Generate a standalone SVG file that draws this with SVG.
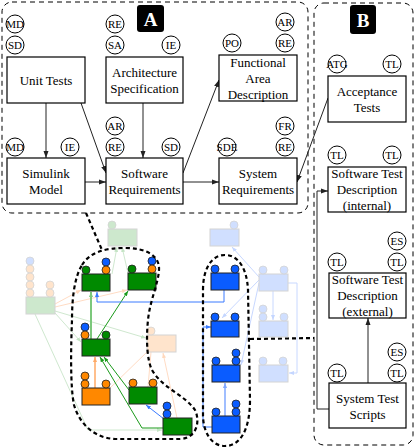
<svg xmlns="http://www.w3.org/2000/svg" width="415" height="448" viewBox="0 0 415 448">
<style>
.panel{fill:none;stroke:#000;stroke-width:1;stroke-dasharray:5,4}
.b{fill:#fff;stroke:#000;stroke-width:1.2}
.c{fill:#fff;stroke:#000;stroke-width:1}
.t{font-family:"Liberation Serif",serif;font-size:13px;text-anchor:middle;fill:#000}
.ct{font-family:"Liberation Serif",serif;font-size:11px;text-anchor:middle;fill:#000}
.lbl{font-family:"Liberation Serif",serif;font-size:19px;font-weight:bold;text-anchor:middle;fill:#fff}
.con{fill:none;stroke:#222;stroke-width:1;marker-end:url(#ah)}
.hd{fill:none;stroke:#000;stroke-width:2.2;stroke-dasharray:4,3}
.tb{stroke:#222;stroke-width:1}
.fb{stroke:#d4d4d4;stroke-width:1}
.g{fill:#008a00}.bl{fill:#0a5cff}.o{fill:#ff8800}
.fg{fill:#cde8cd}.fbl{fill:#d0dfff}.fo{fill:#ffe4cc}
.tc{stroke:#222;stroke-width:0.8}
.fc{stroke:#d4d4d4;stroke-width:0.8}
.l{fill:none}
</style>
<defs>
<marker id="ah" markerWidth="7" markerHeight="6" refX="7" refY="3" orient="auto" markerUnits="userSpaceOnUse"><path d="M0,0.5 L7,3 L0,5.5z" fill="#222"/></marker>
<marker id="mg" markerWidth="5" markerHeight="4" refX="5" refY="2" orient="auto" markerUnits="userSpaceOnUse"><path d="M0,0 L5,2 L0,4z" fill="#1a9a1a"/></marker>
<marker id="mlg" markerWidth="5" markerHeight="4" refX="5" refY="2" orient="auto" markerUnits="userSpaceOnUse"><path d="M0,0 L5,2 L0,4z" fill="#7cc87c"/></marker>
<marker id="mfg" markerWidth="5" markerHeight="4" refX="5" refY="2" orient="auto" markerUnits="userSpaceOnUse"><path d="M0,0 L5,2 L0,4z" fill="#c4e4c4"/></marker>
<marker id="mb" markerWidth="5" markerHeight="4" refX="5" refY="2" orient="auto" markerUnits="userSpaceOnUse"><path d="M0,0 L5,2 L0,4z" fill="#3a7aff"/></marker>
<marker id="mlb" markerWidth="5" markerHeight="4" refX="5" refY="2" orient="auto" markerUnits="userSpaceOnUse"><path d="M0,0 L5,2 L0,4z" fill="#80a8ff"/></marker>
<marker id="mfb" markerWidth="5" markerHeight="4" refX="5" refY="2" orient="auto" markerUnits="userSpaceOnUse"><path d="M0,0 L5,2 L0,4z" fill="#c4d6ff"/></marker>
<marker id="mo" markerWidth="5" markerHeight="4" refX="5" refY="2" orient="auto" markerUnits="userSpaceOnUse"><path d="M0,0 L5,2 L0,4z" fill="#ffaa66"/></marker>
<marker id="mp" markerWidth="5" markerHeight="4" refX="5" refY="2" orient="auto" markerUnits="userSpaceOnUse"><path d="M0,0 L5,2 L0,4z" fill="#ffd8bc"/></marker>
</defs>

<g id="panelA">
<rect class="panel" x="2" y="2" width="306" height="211" rx="10"/>
<rect x="137" y="5" width="27" height="27" rx="3" fill="#000"/>
<text class="lbl" x="150.5" y="25.5">A</text>
</g>
<g id="panelB">
<rect class="panel" x="314" y="3" width="99" height="442" rx="10"/>
<rect x="350" y="5" width="26" height="29" rx="3" fill="#000"/>
<text class="lbl" x="363" y="26.5">B</text>
</g>

<g id="connectors">
<line class="con" x1="46" y1="103" x2="46" y2="158"/>
<line class="con" x1="81" y1="103" x2="106" y2="173"/>
<line class="con" x1="143" y1="103" x2="143" y2="158"/>
<line class="con" x1="85" y1="182" x2="106" y2="182"/>
<line class="con" x1="183" y1="173" x2="219" y2="80"/>
<line class="con" x1="183" y1="182" x2="219" y2="182"/>
<line class="con" x1="328" y1="98" x2="297" y2="182"/>
<polyline class="con" points="329,409 317,409 317,191 328,191"/>
<line class="con" x1="368" y1="383" x2="368" y2="318"/>
<line class="hd" x1="86" y1="213" x2="102" y2="250"/>
<line class="hd" x1="250" y1="339" x2="314" y2="338"/>
</g>

<g id="unit-tests">
<rect class="b" x="7" y="57" width="78" height="46"/>
<text class="t" x="46" y="84.5">Unit Tests</text>
<circle class="c" cx="15" cy="24" r="9"/><text class="ct" x="15" y="27.8">MD</text>
<circle class="c" cx="15" cy="45" r="9"/><text class="ct" x="15" y="48.8">SD</text>
</g>
<g id="architecture-specification">
<rect class="b" x="106" y="57" width="77" height="46"/>
<text class="t" x="144.5" y="76.5">Architecture</text>
<text class="t" x="144.5" y="92.5">Specification</text>
<circle class="c" cx="115" cy="24" r="9"/><text class="ct" x="115" y="27.8">RE</text>
<circle class="c" cx="115" cy="45" r="9"/><text class="ct" x="115" y="48.8">SA</text>
<circle class="c" cx="171" cy="45" r="9"/><text class="ct" x="171" y="48.8">IE</text>
</g>
<g id="simulink-model">
<rect class="b" x="7" y="158" width="78" height="46"/>
<text class="t" x="46" y="177.5">Simulink</text>
<text class="t" x="46" y="194">Model</text>
<circle class="c" cx="15" cy="147" r="9"/><text class="ct" x="15" y="150.8">MD</text>
<circle class="c" cx="70" cy="147" r="9"/><text class="ct" x="70" y="150.8">IE</text>
</g>
<g id="software-requirements">
<rect class="b" x="106" y="158" width="77" height="46"/>
<text class="t" x="144.5" y="177.5">Software</text>
<text class="t" x="144.5" y="194">Requirements</text>
<circle class="c" cx="115" cy="126" r="9"/><text class="ct" x="115" y="129.8">AR</text>
<circle class="c" cx="115" cy="147" r="9"/><text class="ct" x="115" y="150.8">RE</text>
<circle class="c" cx="171" cy="147" r="9"/><text class="ct" x="171" y="150.8">SD</text>
</g>
<g id="functional-area-description">
<rect class="b" x="219" y="55" width="78" height="46"/>
<text class="t" x="258" y="66.5">Functional</text>
<text class="t" x="258" y="82.5">Area</text>
<text class="t" x="258" y="98.5">Description</text>
<circle class="c" cx="232" cy="43" r="9"/><text class="ct" x="232" y="46.8">PO</text>
<circle class="c" cx="285" cy="22" r="9"/><text class="ct" x="285" y="25.8">AR</text>
<circle class="c" cx="285" cy="43" r="9"/><text class="ct" x="285" y="46.8">RE</text>
</g>
<g id="system-requirements">
<rect class="b" x="219" y="158" width="78" height="46"/>
<text class="t" x="258" y="177.5">System</text>
<text class="t" x="258" y="194">Requirements</text>
<circle class="c" cx="227" cy="147" r="9"/><text class="ct" x="227" y="150.8">SDE</text>
<circle class="c" cx="285" cy="126" r="9"/><text class="ct" x="285" y="129.8">FR</text>
<circle class="c" cx="285" cy="147" r="9"/><text class="ct" x="285" y="150.8">RE</text>
</g>
<g id="acceptance-tests">
<rect class="b" x="328" y="76" width="78" height="46"/>
<text class="t" x="367" y="95.5">Acceptance</text>
<text class="t" x="367" y="111.5">Tests</text>
<circle class="c" cx="337" cy="64" r="9"/><text class="ct" x="337" y="67.8">ATG</text>
<circle class="c" cx="392" cy="64" r="9"/><text class="ct" x="392" y="67.8">TL</text>
</g>
<g id="software-test-description-internal">
<rect class="b" x="328" y="167" width="78" height="45"/>
<text class="t" x="367" y="177.5">Software Test</text>
<text class="t" x="367" y="193.5">Description</text>
<text class="t" x="367" y="209.5">(internal)</text>
<circle class="c" cx="337" cy="155" r="9"/><text class="ct" x="337" y="158.8">TL</text>
<circle class="c" cx="392" cy="155" r="9"/><text class="ct" x="392" y="158.8">TL</text>
</g>
<g id="software-test-description-external">
<rect class="b" x="329" y="273" width="77" height="45"/>
<text class="t" x="367.5" y="283.5">Software Test</text>
<text class="t" x="367.5" y="299.5">Description</text>
<text class="t" x="367.5" y="315.5">(external)</text>
<circle class="c" cx="337" cy="262" r="9"/><text class="ct" x="337" y="265.8">TL</text>
<circle class="c" cx="397" cy="262" r="9"/><text class="ct" x="397" y="265.8">TL</text>
<circle class="c" cx="397" cy="241" r="9"/><text class="ct" x="397" y="244.8">ES</text>
</g>
<g id="system-test-scripts">
<rect class="b" x="329" y="383" width="77" height="45"/>
<text class="t" x="367.5" y="402.5">System Test</text>
<text class="t" x="367.5" y="418.5">Scripts</text>
<circle class="c" cx="337" cy="373" r="9"/><text class="ct" x="337" y="376.8">TL</text>
<circle class="c" cx="397" cy="373" r="9"/><text class="ct" x="397" y="376.8">TL</text>
<circle class="c" cx="397" cy="352" r="9"/><text class="ct" x="397" y="355.8">ES</text>
</g>

<g id="thumbnail-connectors">
<line class="l" stroke="#cfe8cf" x1="112" y1="274" x2="117" y2="247" marker-end="url(#mfg)"/>
<line class="l" stroke="#cfe8cf" x1="128" y1="273" x2="122" y2="247" marker-end="url(#mfg)"/>
<line class="l" stroke="#cfe8cf" x1="55" y1="313" x2="81" y2="342" marker-end="url(#mfg)"/>
<line class="l" stroke="#cfe8cf" x1="55" y1="311" x2="146" y2="338" marker-end="url(#mfg)"/>
<polyline class="l" stroke="#cfe8cf" points="35,314 88,430 162,430" marker-end="url(#mfg)"/>
<line class="l" stroke="#ffdcc4" x1="55" y1="304" x2="81" y2="290" marker-end="url(#mp)"/>
<line class="l" stroke="#ffdcc4" x1="55" y1="307" x2="127" y2="290" marker-end="url(#mp)"/>
<line class="l" stroke="#ffdcc4" x1="110" y1="388" x2="147" y2="352"/>
<line class="l" stroke="#ffdcc4" x1="148" y1="387" x2="151" y2="352"/>
<line class="l" stroke="#ffdcc4" x1="177" y1="418" x2="163" y2="353" marker-end="url(#mp)"/>
<line class="l" stroke="#1a9a1a" x1="97" y1="339" x2="128" y2="291" marker-end="url(#mg)"/>
<polyline class="l" stroke="#1a9a1a" points="163,428 142,428 100,357" marker-end="url(#mg)"/>
<line class="l" stroke="#1a9a1a" x1="129" y1="390" x2="104" y2="357" marker-end="url(#mg)"/>
<line class="l" stroke="#7cc87c" stroke-width="2" x1="91" y1="339" x2="91" y2="292" marker-end="url(#mlg)"/>
<line class="l" stroke="#ffaa66" stroke-width="1.5" x1="95" y1="388" x2="95" y2="357" marker-end="url(#mo)"/>
<polyline class="l" stroke="#3a7aff" points="224,290 224,302 97,302 97,292" marker-end="url(#mb)"/>
<line class="l" stroke="#3a7aff" x1="164" y1="419" x2="146" y2="405" marker-end="url(#mb)"/>
<polyline class="l" stroke="#3a7aff" points="212,427 203,427 203,327 211,327" marker-end="url(#mb)"/>
<line class="l" stroke="#80a8ff" stroke-width="1.5" x1="225" y1="416" x2="225" y2="383" marker-end="url(#mlb)"/>
<line class="l" stroke="#c8d8ff" x1="259" y1="277" x2="232" y2="247" marker-end="url(#mfb)"/>
<line class="l" stroke="#c8d8ff" x1="259" y1="280" x2="222" y2="318" marker-end="url(#mfb)"/>
<line class="l" stroke="#c8d8ff" x1="259" y1="283" x2="241" y2="365" marker-end="url(#mfb)"/>
<line class="l" stroke="#c8d8ff" x1="273" y1="291" x2="273" y2="320" marker-end="url(#mfb)"/>
<polyline class="l" stroke="#c8d8ff" points="288,283 297,283 297,373 289,373" marker-end="url(#mfb)"/>
</g>

<g id="t-faded-green-top"><rect class="fb fg" x="108" y="229" width="29" height="17"/><circle class="fc fg" cx="112" cy="225" r="4"/></g>
<g id="t-faded-green-left"><rect class="fb fg" x="26" y="297" width="29" height="17"/>
<circle class="fc fbl" cx="30" cy="261" r="4"/><circle class="fc fo" cx="30" cy="269" r="4"/><circle class="fc fo" cx="30" cy="277" r="4"/><circle class="fc fo" cx="30" cy="285" r="4"/><circle class="fc fo" cx="30" cy="293" r="4"/>
<circle class="fc fo" cx="50" cy="285" r="4"/><circle class="fc fo" cx="50" cy="293" r="4"/></g>
<g id="t-green-1"><rect class="tb g" x="82" y="274" width="28" height="17"/><circle class="tc g" cx="86" cy="270" r="4"/><circle class="tc bl" cx="106" cy="262" r="4"/><circle class="tc o" cx="106" cy="270" r="4"/></g>
<g id="t-green-2"><rect class="tb g" x="128" y="273" width="28" height="17"/><circle class="tc g" cx="132" cy="269" r="4"/><circle class="tc bl" cx="152" cy="261" r="4"/><circle class="tc o" cx="152" cy="269" r="4"/></g>
<g id="t-green-3"><rect class="tb g" x="82" y="339" width="28" height="17"/><circle class="tc bl" cx="85" cy="327" r="4"/><circle class="tc o" cx="85" cy="335" r="4"/><circle class="tc g" cx="106" cy="335" r="4"/></g>
<g id="t-orange"><rect class="tb o" x="82" y="388" width="28" height="17"/><circle class="tc o" cx="85" cy="376" r="4"/><circle class="tc o" cx="85" cy="384" r="4"/><circle class="tc o" cx="106" cy="384" r="4"/></g>
<g id="t-green-4"><rect class="tb g" x="129" y="387" width="28" height="17"/><circle class="tc o" cx="133" cy="383" r="4"/><circle class="tc o" cx="153" cy="383" r="4"/></g>
<g id="t-faded-orange"><rect class="fb fo" x="147" y="335" width="29" height="17"/><circle class="fc fo" cx="151" cy="331" r="4"/></g>
<g id="t-green-5"><rect class="tb g" x="163" y="418" width="29" height="17"/><circle class="tc bl" cx="167" cy="406" r="4"/><circle class="tc bl" cx="167" cy="414" r="4"/></g>
<g id="t-faded-blue-top"><rect class="fb fbl" x="210" y="229" width="29" height="17"/><circle class="fc fbl" cx="234" cy="225" r="4"/></g>
<g id="t-blue-1"><rect class="tb bl" x="211" y="273" width="28" height="17"/><circle class="tc bl" cx="215" cy="269" r="4"/><circle class="tc bl" cx="235" cy="269" r="4"/></g>
<g id="t-faded-blue-1"><rect class="fb fbl" x="259" y="274" width="29" height="17"/><circle class="fc fbl" cx="263" cy="270" r="4"/><circle class="fc fbl" cx="284" cy="270" r="4"/></g>
<g id="t-blue-2"><rect class="tb bl" x="211" y="321" width="28" height="16"/><circle class="tc bl" cx="215" cy="317" r="4"/><circle class="tc bl" cx="235" cy="317" r="4"/></g>
<g id="t-faded-blue-2"><rect class="fb fbl" x="259" y="321" width="29" height="16"/><circle class="fc fbl" cx="263" cy="309" r="4"/><circle class="fc fbl" cx="263" cy="317" r="4"/><circle class="fc fbl" cx="284" cy="317" r="4"/></g>
<g id="t-blue-3"><rect class="tb bl" x="212" y="365" width="28" height="17"/><circle class="tc bl" cx="216" cy="361" r="4"/><circle class="tc bl" cx="236" cy="353" r="4"/><circle class="tc bl" cx="236" cy="361" r="4"/></g>
<g id="t-faded-blue-3"><rect class="fb fbl" x="259" y="365" width="29" height="17"/><circle class="fc fbl" cx="263" cy="361" r="4"/><circle class="fc fbl" cx="283" cy="361" r="4"/></g>
<g id="t-blue-4"><rect class="tb bl" x="212" y="416" width="28" height="17"/><circle class="tc bl" cx="216" cy="412" r="4"/><circle class="tc bl" cx="236" cy="404" r="4"/><circle class="tc bl" cx="236" cy="412" r="4"/></g>

<g id="highlight-regions">
<path class="hd" d="M82,265 C90,252 105,248 125,248 C145,248 160,255 159,270 C158,285 150,300 148,320 C146,340 147,360 152,370 C162,388 185,395 195,410 C200,420 198,438 180,439 L115,439 C95,438 80,425 74,405 C70,385 71,345 72,320 C72,300 74,278 82,265 Z"/>
<path class="hd" d="M203,290 C203,268 212,255 225,255 C238,255 247,268 248,290 L250,400 C250,430 240,446 225,446 C210,446 203,430 203,415 Z"/>
</g>
</svg>
